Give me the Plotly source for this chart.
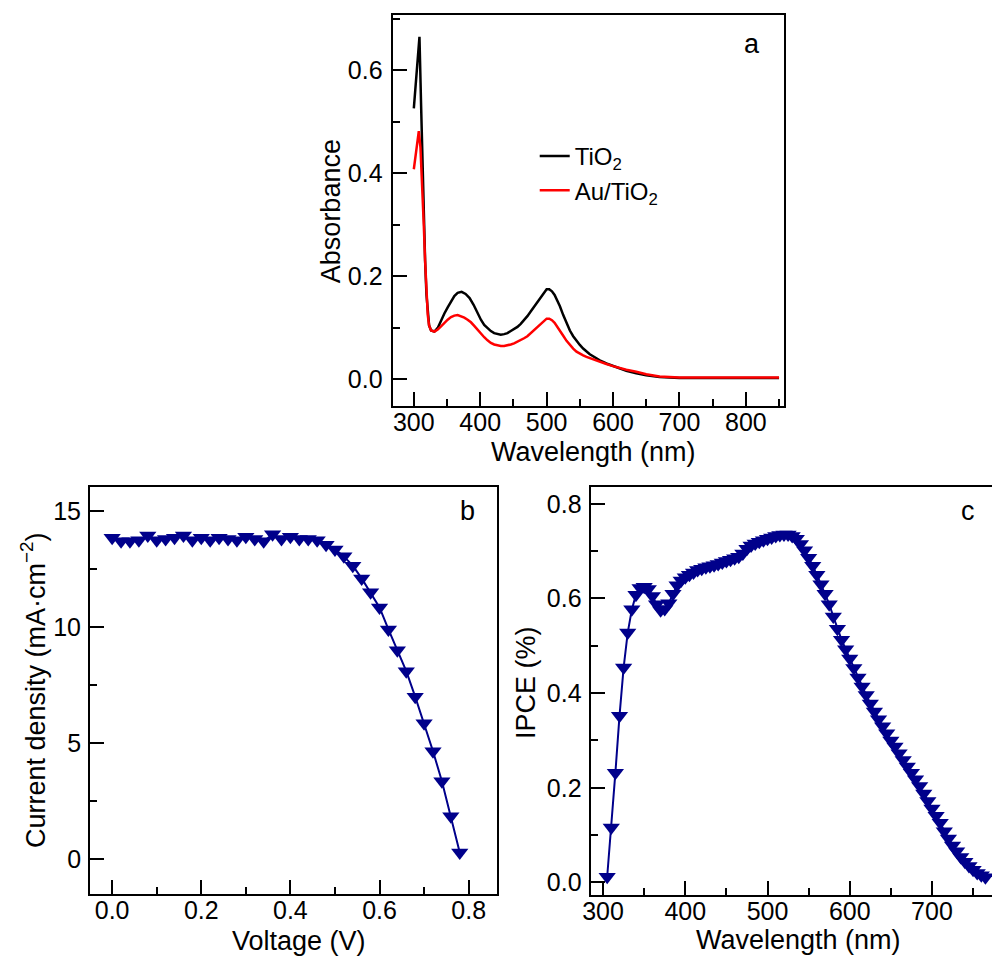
import plotly.graph_objects as go

# ---------------- Panel a: absorbance spectra ----------------
wl_tio2 = [300, 308.5, 311, 313, 315, 317, 319, 321, 323, 326, 331, 336, 341, 346, 351, 356,
           361, 366, 372, 378, 384, 390, 396, 401, 406, 411, 416, 421, 426, 431, 436, 441,
           446, 451, 456, 461, 466, 471, 476, 481, 486, 491, 496, 500, 504, 508, 512, 516,
           520, 525, 530, 535, 540, 545, 550, 555, 560, 565, 570, 575, 580, 590, 600, 610,
           620, 635, 650, 670, 700, 750, 800, 850]
abs_tio2 = [0.526, 0.665, 0.53, 0.41, 0.31, 0.23, 0.165, 0.125, 0.105, 0.095, 0.093, 0.100,
            0.115, 0.128, 0.140, 0.152, 0.162, 0.168, 0.170, 0.166, 0.158, 0.145, 0.128, 0.116,
            0.106, 0.099, 0.094, 0.090, 0.088, 0.087, 0.088, 0.090, 0.094, 0.098, 0.102, 0.108,
            0.115, 0.123, 0.132, 0.141, 0.150, 0.159, 0.168, 0.175, 0.175, 0.171, 0.164, 0.154,
            0.142, 0.125, 0.109, 0.095, 0.084, 0.075, 0.067, 0.060, 0.054, 0.049, 0.045, 0.041,
            0.037, 0.031, 0.026, 0.021, 0.017, 0.012, 0.008, 0.005, 0.003, 0.003, 0.003, 0.003]

wl_au = [300, 307.5, 310, 312, 313.5, 315, 317, 319, 321, 323, 326, 331, 336, 341, 346, 351,
         356, 361, 366, 371, 376, 381, 386, 391, 396, 401, 406, 411, 416, 421, 426, 431,
         436, 441, 446, 451, 456, 461, 466, 471, 476, 481, 486, 491, 496, 500, 504, 508,
         512, 516, 520, 525, 530, 535, 540, 545, 550, 555, 560, 570, 580, 590, 600, 610,
         620, 635, 650, 670, 700, 750, 800, 850]
abs_au = [0.408, 0.482, 0.45, 0.40, 0.35, 0.30, 0.23, 0.165, 0.125, 0.105, 0.095, 0.093,
          0.097, 0.103, 0.110, 0.116, 0.121, 0.124, 0.125, 0.123, 0.120, 0.116, 0.111, 0.104,
          0.096, 0.089, 0.082, 0.076, 0.071, 0.068, 0.066, 0.065, 0.065, 0.066, 0.068, 0.070,
          0.073, 0.076, 0.080, 0.084, 0.090, 0.096, 0.102, 0.108, 0.114, 0.118, 0.118, 0.115,
          0.110, 0.103, 0.095, 0.085, 0.075, 0.067, 0.060, 0.054, 0.050, 0.047, 0.044, 0.039,
          0.034, 0.030, 0.026, 0.022, 0.019, 0.015, 0.010, 0.006, 0.004, 0.004, 0.004, 0.004]

# ---------------- Panel b: J-V curve ----------------
voltage = [0.00, 0.02, 0.04, 0.06, 0.08, 0.10, 0.12, 0.14, 0.16, 0.18, 0.20, 0.22, 0.24, 0.26,
           0.28, 0.30, 0.32, 0.34, 0.36, 0.38, 0.40, 0.42, 0.44, 0.46, 0.48, 0.50, 0.52, 0.54,
           0.56, 0.58, 0.60, 0.62, 0.64, 0.66, 0.68, 0.70, 0.72, 0.74, 0.76, 0.78]
current_density = [13.85, 13.7, 13.7, 13.75, 13.95, 13.75, 13.8, 13.85, 13.95, 13.75, 13.85,
                   13.75, 13.85, 13.8, 13.75, 13.9, 13.8, 13.7, 14.0, 13.8, 13.9, 13.8, 13.8,
                   13.75, 13.55, 13.35, 13.05, 12.65, 12.1, 11.5, 10.85, 9.9, 9.0, 8.1, 7.0,
                   5.85, 4.65, 3.35, 1.85, 0.28]

# ---------------- Panel c: IPCE ----------------
ipce_wl = [305, 310, 315, 320, 325, 330, 335, 340, 345, 350, 355, 360, 365, 370, 375, 380,
           385, 390, 395, 400, 405, 410, 415, 420, 425, 430, 435, 440, 445, 450, 455, 460,
           465, 470, 475, 480, 485, 490, 495, 500, 505, 510, 515, 520, 525, 530, 535, 540,
           545, 550, 555, 560, 565, 570, 575, 580, 585, 590, 595, 600, 605, 610, 615, 620,
           625, 630, 635, 640, 645, 650, 655, 660, 665, 670, 675, 680, 685, 690, 695, 700,
           705, 710, 715, 720, 725, 730, 735, 740, 745, 750, 755, 760, 765]
ipce = [0.012, 0.116, 0.232, 0.352, 0.454, 0.528, 0.577, 0.608, 0.622, 0.625, 0.620, 0.605,
        0.588, 0.575, 0.578, 0.590, 0.610, 0.628, 0.638, 0.645, 0.650, 0.655, 0.660, 0.663,
        0.666, 0.668, 0.670, 0.673, 0.676, 0.679, 0.682, 0.685, 0.688, 0.695, 0.705, 0.712,
        0.716, 0.720, 0.723, 0.726, 0.729, 0.732, 0.734, 0.735, 0.735, 0.732, 0.726, 0.715,
        0.702, 0.686, 0.669, 0.650, 0.630, 0.610, 0.588, 0.562, 0.536, 0.513, 0.493, 0.473,
        0.453, 0.433, 0.414, 0.396, 0.378, 0.361, 0.345, 0.330, 0.315, 0.300, 0.287, 0.273,
        0.259, 0.245, 0.232, 0.218, 0.204, 0.188, 0.172, 0.156, 0.141, 0.126, 0.108, 0.093,
        0.078, 0.066, 0.054, 0.044, 0.035, 0.027, 0.020, 0.015, 0.011]

FONT = "Arial, 'Liberation Sans', sans-serif"
NAVY = "#00008B"
W, H = 992, 956
TICK_SIZE = 25
TITLE_SIZE = 27


def px_x(p):
    return p / W


def px_y(p):
    return 1 - p / H


def axis(domain, rng, dtick, tick0, minor_dtick, fmt=None, mirror=True, standoff=0):
    d = dict(domain=domain, range=rng, dtick=dtick, tick0=tick0,
             showline=True, linecolor="black", linewidth=2, mirror=mirror,
             ticks="inside", ticklen=14, tickwidth=2, tickcolor="black",
             tickfont=dict(family=FONT, size=TICK_SIZE, color="black"),
             ticklabelstandoff=standoff,
             showgrid=False, zeroline=False, fixedrange=True,
             minor=dict(ticks="inside", ticklen=7, tickwidth=2, tickcolor="black",
                        dtick=minor_dtick, tick0=tick0, showgrid=False))
    if fmt:
        d["tickformat"] = fmt
    return d


fig = go.Figure()
fig.add_trace(go.Scatter(x=wl_tio2, y=abs_tio2, mode="lines", name="TiO<sub>2</sub>",
                         line=dict(color="black", width=2.5), xaxis="x", yaxis="y"))
fig.add_trace(go.Scatter(x=wl_au, y=abs_au, mode="lines", name="Au/TiO<sub>2</sub>",
                         line=dict(color="#FF0000", width=2.5), xaxis="x", yaxis="y"))
fig.add_trace(go.Scatter(x=voltage, y=current_density, mode="lines+markers", showlegend=False,
                         line=dict(color=NAVY, width=2),
                         marker=dict(symbol="triangle-down", size=15, color=NAVY, line=dict(width=0)),
                         xaxis="x2", yaxis="y2"))
fig.add_trace(go.Scatter(x=ipce_wl, y=ipce, mode="lines+markers", showlegend=False,
                         line=dict(color=NAVY, width=2),
                         marker=dict(symbol="triangle-down", size=15, color=NAVY, line=dict(width=0)),
                         xaxis="x3", yaxis="y3"))

fig.update_layout(
    width=W, height=H,
    margin=dict(l=0, r=0, t=0, b=0),
    paper_bgcolor="white", plot_bgcolor="white",
    font=dict(family=FONT, size=24, color="black"),
    xaxis=axis([px_x(387.7), px_x(782)], [268, 857], 100, 300, 50, standoff=-7),
    yaxis=axis([px_y(406.7), px_y(14.7)], [-0.052, 0.708], 0.2, 0, 0.1, ".1f", standoff=3),
    xaxis2=dict(axis([px_x(82.7), px_x(492.7)], [-0.0496, 0.863], 0.2, 0, 0.1, ".1f", standoff=-7),
                anchor="y2"),
    yaxis2=dict(axis([px_y(895), px_y(487.3)], [-1.51, 16.05], 5, 0, 2.5, standoff=2), anchor="x2"),
    xaxis3=dict(axis([px_x(587.3), 1.0], [284.8, 773], 100, 300, 50, standoff=-7), anchor="y3"),
    yaxis3=dict(axis([px_y(895.7), px_y(487.3)], [-0.026, 0.836], 0.2, 0, 0.1, ".1f", mirror=False,
                     standoff=2), anchor="x3"),
    legend=dict(x=px_x(531), y=px_y(134), xanchor="left", yanchor="top",
                bgcolor="rgba(0,0,0,0)", font=dict(family=FONT, size=24, color="black"),
                itemwidth=30),
    showlegend=True,
)

annotations = [
    # panel letters
    dict(text="a", x=px_x(750), y=px_y(44)),
    dict(text="b", x=px_x(463), y=px_y(512)),
    dict(text="c", x=px_x(968), y=px_y(512)),
    # axis titles
    dict(text="Wavelength (nm)", x=px_x(590), y=px_y(452)),
    dict(text="Absorbance", x=px_x(325), y=px_y(211), textangle=-90),
    dict(text="Voltage (V)", x=px_x(293), y=px_y(942)),
    dict(text="Current density (mA·cm<sup>−2</sup>)", x=px_x(26), y=px_y(691), textangle=-90),
    dict(text="Wavelength (nm)", x=px_x(797), y=px_y(941)),
    dict(text="IPCE (%)", x=px_x(522), y=px_y(683), textangle=-90),
]
for a in annotations:
    a.update(xref="paper", yref="paper", showarrow=False, xanchor="center", yanchor="middle",
             font=dict(family=FONT, size=TITLE_SIZE, color="black"))
fig.update_layout(annotations=annotations)

fig.write_html("out.html", config={"displayModeBar": False},
               post_script="document.body.style.margin='0px';document.body.style.overflow='hidden';")
